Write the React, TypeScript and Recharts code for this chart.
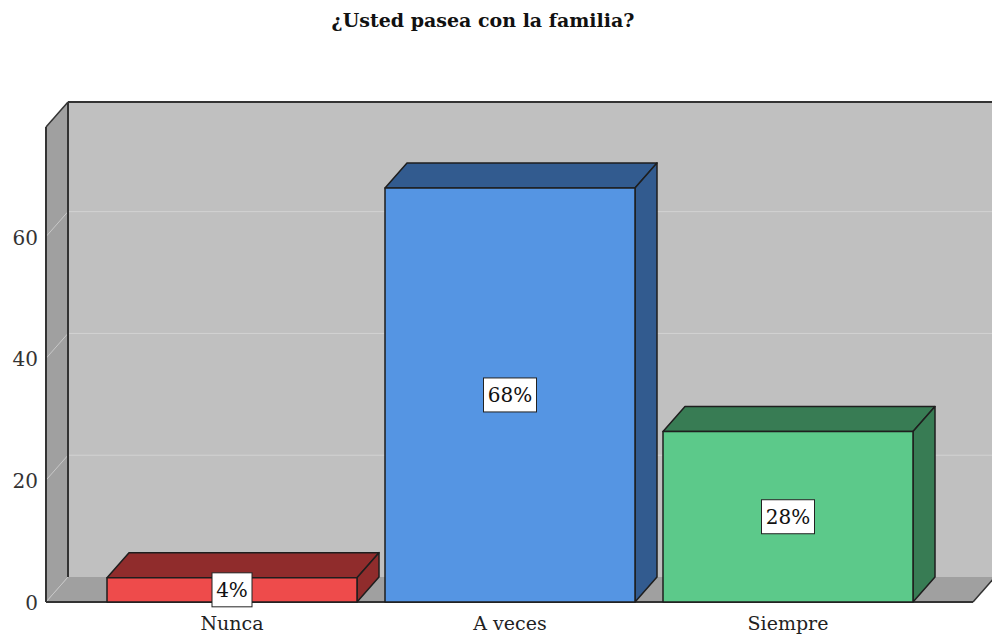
import { BarChart, Bar, XAxis, YAxis, ReferenceArea, LabelList } from 'recharts';

const categories = ['Nunca', 'A veces', 'Siempre'];
const values = [4, 68, 28];
const yTicks = [0, 20, 40, 60];
const Y_MAX = 78;

const FRONT_COLORS = ['#ee4b4b', '#5595e3', '#5cc98a'];
const SIDE_COLORS = ['#902c2c', '#325b8f', '#387c54'];

const DX = 22;
const DY = 25;
const FONT = '"DejaVu Serif", serif';

const data = categories.map((name, i) => ({ name, value: values[i] }));

// back wall, left wall, floor and the grid lines, drawn from the plot rectangle
function Walls(props: any) {
  const { x, y, width, height } = props;
  const bottom = y + height;
  const right = x + width;
  const lines = yTicks.filter((t) => t > 0).map((t) => y + height * (1 - t / Y_MAX));
  return (
    <g>
      <rect x={x + DX} y={y - DY} width={width} height={height} fill="#c0c0c0" />
      {lines.map((ly, i) => (
        <line key={i} x1={x + DX} y1={ly - DY} x2={right + DX} y2={ly - DY} stroke="#d2d2d2" strokeWidth={1} />
      ))}
      <line x1={x + DX} y1={y - DY} x2={right + DX} y2={y - DY} stroke="#333" strokeWidth={2} />
      <polygon
        points={`${x},${bottom} ${x + DX},${bottom - DY} ${right + DX},${bottom - DY} ${right},${bottom}`}
        fill="#a0a0a0"
      />
      <polygon
        points={`${x},${y} ${x + DX},${y - DY} ${x + DX},${bottom - DY} ${x},${bottom}`}
        fill="#a0a0a0"
      />
      {lines.map((ly, i) => (
        <line key={i} x1={x} y1={ly} x2={x + DX} y2={ly - DY} stroke="#c8c8c8" strokeWidth={1} />
      ))}
      <line x1={x} y1={bottom} x2={x + DX} y2={bottom - DY} stroke="#c8c8c8" strokeWidth={1} />
      <line x1={x + DX} y1={y - DY} x2={x + DX} y2={bottom - DY} stroke="#333" strokeWidth={2} />
      <line x1={x} y1={y} x2={x} y2={bottom} stroke="#333" strokeWidth={2} />
      <line x1={x} y1={y} x2={x + DX} y2={y - DY} stroke="#333" strokeWidth={1.5} />
      <line x1={x} y1={bottom} x2={right} y2={bottom} stroke="#333" strokeWidth={2} />
      <line x1={right} y1={bottom} x2={right + DX} y2={bottom - DY} stroke="#333" strokeWidth={1.5} />
    </g>
  );
}

function Bar3D(props: any) {
  const { x, y, width, height, index } = props;
  const front = FRONT_COLORS[index % FRONT_COLORS.length];
  const side = SIDE_COLORS[index % SIDE_COLORS.length];
  const r = x + width;
  const b = y + height;
  return (
    <g stroke="#1e1e1e" strokeWidth={1.5} strokeLinejoin="round">
      <polygon points={`${x},${y} ${x + DX},${y - DY} ${r + DX},${y - DY} ${r},${y}`} fill={side} />
      <polygon points={`${r},${y} ${r + DX},${y - DY} ${r + DX},${b - DY} ${r},${b}`} fill={side} />
      <rect x={x} y={y} width={width} height={height} fill={front} />
    </g>
  );
}

function PctLabel(props: any) {
  const { x, y, width, height, value } = props;
  const text = `${value}%`;
  const w = text.length * 13 + 14;
  const h = 34;
  const cx = x + width / 2;
  const cy = y + height / 2;
  return (
    <g>
      <rect x={cx - w / 2} y={cy - h / 2} width={w} height={h} fill="#fff" stroke="#222" strokeWidth={1} />
      <text x={cx} y={cy} dy="0.36em" textAnchor="middle" fontFamily={FONT} fontSize={20} fill="#111">
        {text}
      </text>
    </g>
  );
}

function XTick(props: any) {
  const { x, y, payload } = props;
  return (
    <text x={x} y={y + 28} textAnchor="middle" fontFamily={FONT} fontSize={19} fill="#222">
      {payload.value}
    </text>
  );
}

function YTick(props: any) {
  const { x, y, payload } = props;
  return (
    <text x={x} y={y} dy="0.4em" textAnchor="end" fontFamily={FONT} fontSize={20} fill="#333">
      {payload.value}
    </text>
  );
}

export default function App() {
  return (
    <div style={{ position: 'absolute', left: 0, top: 0, width: 992, height: 636, background: '#fff', overflow: 'hidden' }}>
      <div
        style={{
          position: 'absolute',
          left: 0,
          top: 9,
          width: 966,
          textAlign: 'center',
          fontFamily: FONT,
          fontWeight: 'bold',
          fontSize: 19,
          color: '#111',
        }}
      >
        ¿Usted pasea con la familia?
      </div>
      <BarChart width={992} height={636} data={data} margin={{ top: 127, right: 19, bottom: 0, left: 0 }}>
        <XAxis xAxisId="frame" type="number" domain={[0, 1]} allowDataOverflow hide />
        <XAxis
          dataKey="name"
          height={34}
          padding={{ left: 47, right: 46 }}
          axisLine={false}
          tickLine={false}
          tickSize={0}
          tickMargin={0}
          tick={<XTick />}
        />
        <YAxis
          width={46}
          domain={[0, Y_MAX]}
          ticks={yTicks}
          axisLine={false}
          tickLine={false}
          tickSize={0}
          tickMargin={8}
          tick={<YTick />}
        />
        <ReferenceArea xAxisId="frame" y1={0} y2={Y_MAX} ifOverflow="visible" shape={<Walls />} />
        <Bar dataKey="value" barSize={250} shape={<Bar3D />} isAnimationActive={false}>
          <LabelList dataKey="value" content={<PctLabel />} />
        </Bar>
      </BarChart>
    </div>
  );
}
